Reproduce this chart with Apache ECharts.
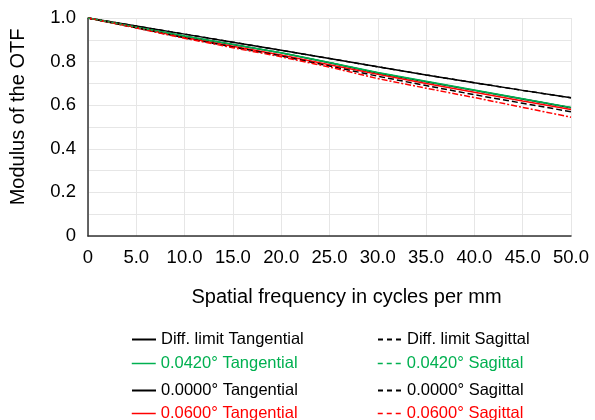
<!DOCTYPE html>
<html>
<head>
<meta charset="utf-8">
<script src="https://cdn.jsdelivr.net/npm/echarts@6/dist/echarts.min.js"></script>
<style>
html, body { margin: 0; padding: 0; background: #fff; }
#chart { width: 595px; height: 420px; }
</style>
</head>
<body>
<div id="chart"></div>
<script>
// spatial frequency (cycles/mm)
var freq = [0, 5, 10, 15, 20, 25, 30, 35, 40, 45, 50];
var diffT = [1, 0.963, 0.926, 0.889, 0.852, 0.814, 0.776, 0.739, 0.703, 0.668, 0.634];
var diffS = [1, 0.963, 0.926, 0.889, 0.852, 0.814, 0.776, 0.739, 0.703, 0.668, 0.634];
var f042T = [1, 0.958, 0.917, 0.879, 0.841, 0.796, 0.750, 0.710, 0.670, 0.630, 0.590];
var f042S = [1, 0.958, 0.916, 0.878, 0.840, 0.795, 0.748, 0.708, 0.668, 0.628, 0.588];
var f000T = [1, 0.958, 0.916, 0.878, 0.840, 0.795, 0.748, 0.708, 0.668, 0.628, 0.588];
var f000S = [1, 0.955, 0.909, 0.867, 0.826, 0.780, 0.733, 0.690, 0.648, 0.609, 0.570];
var f060T = [1, 0.956, 0.911, 0.870, 0.830, 0.786, 0.742, 0.700, 0.659, 0.619, 0.580];
var f060S = [1, 0.954, 0.907, 0.864, 0.822, 0.775, 0.722, 0.678, 0.635, 0.590, 0.545];

var BLACK = '#000000', GREEN = '#00b050', RED = '#ff0000';
var font = 'Liberation Sans, Arial, sans-serif';

function pts(ys) {
    return freq.map(function (x, i) { return [x, ys[i]]; });
}
function line(name, ys, color, type, width) {
    return {
        name: name,
        type: 'line',
        data: pts(ys),
        symbol: 'none',
        silent: true,
        lineStyle: { color: color, width: width || 1.5, type: type },
        itemStyle: { color: color }
    };
}
function leg(name, color, left, cy, dashed) {
    return {
        left: left,
        top: cy - 7,
        padding: 0,
        itemWidth: 24,
        itemHeight: 12,
        itemGap: 0,
        selectedMode: false,
        textStyle: { fontFamily: font, fontSize: 16.5, color: color },
        itemStyle: { opacity: 0 },
        lineStyle: {
            type: dashed ? [5, 4] : 'solid',
            width: color === BLACK ? 2 : 1.5,
            opacity: 1
        },
        data: [name]
    };
}

var chart = echarts.init(document.getElementById('chart'));
chart.setOption({
    animation: false,
    backgroundColor: '#fff',
    grid: { left: 88, right: 24, top: 18, bottom: 184 },
    legend: [
        leg('Diff. limit Tangential', BLACK, 131, 338, false),
        leg('0.0420° Tangential', GREEN, 131, 362, false),
        leg('0.0000° Tangential', BLACK, 131, 389, false),
        leg('0.0600° Tangential', RED, 131, 412, false),
        leg('Diff. limit Sagittal', BLACK, 377, 338, true),
        leg('0.0420° Sagittal', GREEN, 377, 362, true),
        leg('0.0000° Sagittal', BLACK, 377, 389, true),
        leg('0.0600° Sagittal', RED, 377, 412, true)
    ],
    xAxis: {
        type: 'value',
        min: 0, max: 50, interval: 5,
        name: 'Spatial frequency in cycles per mm',
        nameLocation: 'middle',
        nameGap: 51,
        nameTextStyle: { fontFamily: font, fontSize: 20, color: '#000', padding: [0, 0, 0, 34] },
        axisLine: { lineStyle: { color: '#333', width: 1.5 } },
        axisTick: { show: false },
        axisLabel: {
            fontFamily: font, fontSize: 18.5, color: '#000', margin: 12,
            formatter: function (v) { return v === 0 ? '0' : v.toFixed(1); }
        },
        splitLine: { show: true, lineStyle: { color: '#e6e6e6', width: 1 } }
    },
    yAxis: {
        type: 'value',
        min: 0, max: 1, interval: 0.1,
        name: 'Modulus of the OTF',
        nameLocation: 'middle',
        nameGap: 60,
        nameTextStyle: { fontFamily: font, fontSize: 20, color: '#000', padding: [0, 0, 0, 20] },
        axisLine: { show: true, lineStyle: { color: '#333', width: 1.5 } },
        axisTick: { show: false },
        axisLabel: {
            fontFamily: font, fontSize: 18.5, color: '#000', margin: 12,
            formatter: function (v) {
                var k = Math.round(v * 10);
                if (k % 2 !== 0) return '';
                return k === 0 ? '0' : (k / 10).toFixed(1);
            }
        },
        splitLine: { show: true, lineStyle: { color: '#e6e6e6', width: 1 } }
    },
    series: [
        line('Diff. limit Sagittal', diffS, BLACK, [5, 4]),
        line('Diff. limit Tangential', diffT, BLACK, 'solid'),
        line('0.0000° Tangential', f000T, BLACK, 'solid'),
        line('0.0420° Tangential', f042T, GREEN, 'solid'),
        line('0.0600° Tangential', f060T, RED, 'solid'),
        line('0.0000° Sagittal', f000S, BLACK, [6, 3]),
        line('0.0600° Sagittal', f060S, RED, [6, 2, 2, 2]),
        line('0.0420° Sagittal', f042S, GREEN, [2, 2])
    ]
});
</script>
</body>
</html>
